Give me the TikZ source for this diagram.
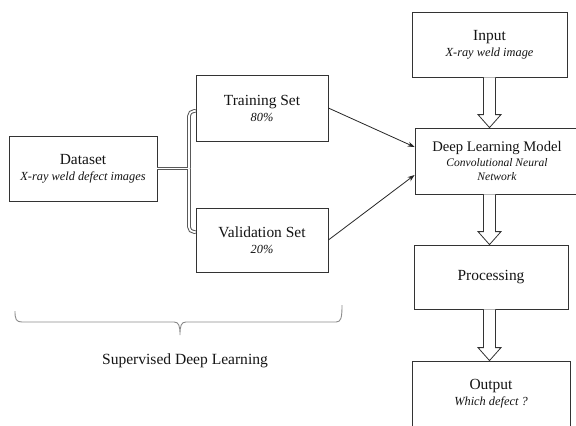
\documentclass[tikz,border=0pt]{standalone}
\usepackage{fontspec}
\setmainfont{Liberation Serif}
\usetikzlibrary{calc,arrows.meta}
\newcommand\titlef{\fontsize{15.5}{18}\selectfont}
\newcommand\dlmf{\fontsize{14.7}{16}\selectfont}
\newcommand\subf{\fontsize{12.4}{15}\selectfont\itshape}
\newcommand\smallsubf{\fontsize{11.6}{14}\selectfont\itshape}
\newcommand\hollowarrow[2]{%
  \draw[blockarr] ($(#1)+(-6,0)$) -- ($(#2)+(-6,-13)$) -- ($(#2)+(-11.5,-13)$) -- (#2)
    -- ($(#2)+(11.5,-13)$) -- ($(#2)+(6,-13)$) -- ($(#1)+(6,0)$);}
\tikzset{
  box/.style={draw=black!80, line width=0.8bp, rectangle, align=center, inner sep=0pt, font=\titlef, text=black!92},
  blockarr/.style={draw=black!80, line width=0.8bp, fill=white, line join=miter},
  dblout/.style={draw=black!65, line width=3.6bp, rounded corners=5bp},
  dblin/.style={draw=white, line width=1.6bp, rounded corners=5bp},
  thinarrow/.style={draw=black!85, line width=0.8bp, -{Stealth[length=7bp,width=5bp]}},
  bracestyle/.style={draw=black!45, line width=0.9bp}
}
\begin{document}
\begin{tikzpicture}[x=1bp,y=-1bp]
\useasboundingbox (0,0) rectangle (576,425);
\fill[white] (0,0) rectangle (576,425);

\node[box, minimum width=148bp, minimum height=65bp] (dataset) at (83,168.5)
  {Dataset\\[-2pt]{\subf X-ray weld defect images}};
\node[box, minimum width=132bp, minimum height=66bp] (training) at (262,108)
  {Training Set\\[-2pt]{\subf 80\%}};
\node[box, minimum width=132bp, minimum height=64bp] (validation) at (262,240)
  {Validation Set\\[-2pt]{\subf 20\%}};
\node[box, minimum width=155bp, minimum height=65bp] (input) at (489.5,44.5)
  {Input\\[-2pt]{\subf X-ray weld image}};
\node[box, minimum width=170bp, minimum height=66bp, font=\dlmf] (dlm) at (500,161)
  {\hspace*{-6bp}Deep Learning Model\\[-1pt]{\smallsubf \hspace*{-6bp}Convolutional Neural}\\[-2pt]{\smallsubf \hspace*{-6bp}Network}};
\node[box, minimum width=154bp, minimum height=64bp] (processing) at (491,277)
  {Processing};
\node[box, minimum width=158bp, minimum height=66bp] (output) at (491,394)
  {Output\\[-2pt]{\subf Which defect ?}};

% split connector
\coordinate (j) at (dataset.east -| 189,0);
\draw[dblout] (dataset.east) -- (j);
\draw[dblout] (j) |- ([yshift=-3bp]training.west);
\draw[dblout] (j) |- ([yshift=8bp]validation.west);
\draw[dblin] (dataset.east) -- (j);
\draw[dblin] (j) |- ([yshift=-3bp]training.west);
\draw[dblin] (j) |- ([yshift=8bp]validation.west);

% thin arrows
\draw[thinarrow] (training.east) -- ([yshift=14bp]dlm.west);
\draw[thinarrow] (validation.east) -- ([yshift=-14bp]dlm.west);

% hollow block arrows
\hollowarrow{input.south}{dlm.north -| input.south}
\hollowarrow{dlm.south -| input.south}{processing.north -| input.south}
\hollowarrow{processing.south -| input.south}{output.north -| input.south}

% brace
\draw[bracestyle] (15,311) .. controls (15,319) and (16,322) .. (22,322) -- (174,322)
  .. controls (179,322) and (180,326) .. (180,335)
  .. controls (180,326) and (181,322) .. (186,322) -- (336,322)
  .. controls (341,322) and (342,318) .. (342,305);
\node[font=\fontsize{15.6}{18}\selectfont, text=black!92, inner sep=0pt] (sdl) at (185,361) {Supervised Deep Learning};
\end{tikzpicture}
\end{document}
